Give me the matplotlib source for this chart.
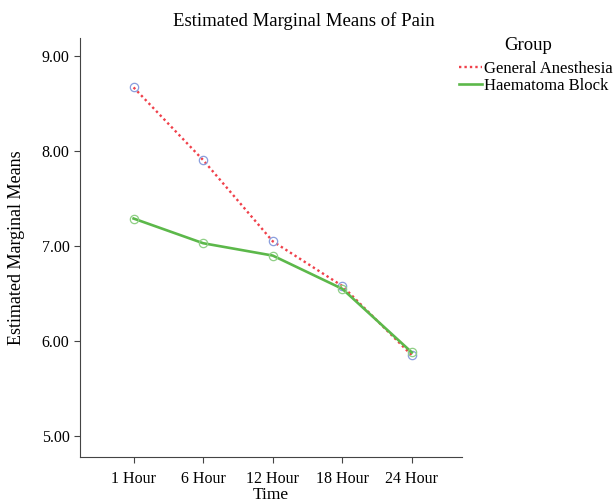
import matplotlib.pyplot as plt

plt.rcParams['font.family'] = ['Liberation Serif', 'DejaVu Serif']

times = ['1 Hour', '6 Hour', '12 Hour', '18 Hour', '24 Hour']
general = [8.67, 7.905, 7.05, 6.58, 5.85]
haematoma = [7.29, 7.03, 6.90, 6.55, 5.88]
yticks = [5.0, 6.0, 7.0, 8.0, 9.0]

fig = plt.figure(figsize=(6.13, 5.04), dpi=100)
ax = fig.add_axes([80 / 613, 47 / 504, 382 / 613, 419 / 504])

x = list(range(len(times)))
l1, = ax.plot(x, general, color='#f0404a', linestyle=(0, (1, 1.3)), linewidth=1.7,
              label='General Anesthesia')
ax.plot(x, general, 'o', mfc='none', mec='#8a9ede', ms=6, mew=0.9)
l2, = ax.plot(x, haematoma, color='#5cb84a', linewidth=1.9, label='Haematoma Block')
ax.plot(x, haematoma, 'o', mfc='none', mec='#8fcf85', ms=6, mew=0.9)

ax.set_xticks(x)
ax.set_xticklabels(times)
ax.set_xlim(-0.77, 4.72)
ax.set_yticks(yticks)
ax.set_yticklabels(['%.2f' % v for v in yticks])
ax.set_ylim(4.78, 9.19)
for s in ['top', 'right']:
    ax.spines[s].set_visible(False)
ax.spines['left'].set_color('#444444')
ax.spines['bottom'].set_color('#444444')
ax.tick_params(labelsize=11.5, length=4, color='#444444')
ax.tick_params(axis='x', pad=6)
ax.set_xlabel('Time', fontsize=12.5, labelpad=0)
ax.set_ylabel('Estimated Marginal Means', fontsize=13, labelpad=12)

fig.suptitle('Estimated Marginal Means of Pain', x=0.495, y=0.975, fontsize=13.5)

fig.text(528 / 613, 1 - 46 / 504, 'Group', ha='center', va='center', fontsize=13.5)
fig.legend(handles=[l1, l2], loc='upper left', bbox_to_anchor=(459 / 613, 1 - 61 / 504),
           frameon=False, fontsize=12, handlelength=1.4, handletextpad=0.1,
           labelspacing=0.05, borderpad=0, borderaxespad=0)

fig.savefig('out.png', dpi=100)
